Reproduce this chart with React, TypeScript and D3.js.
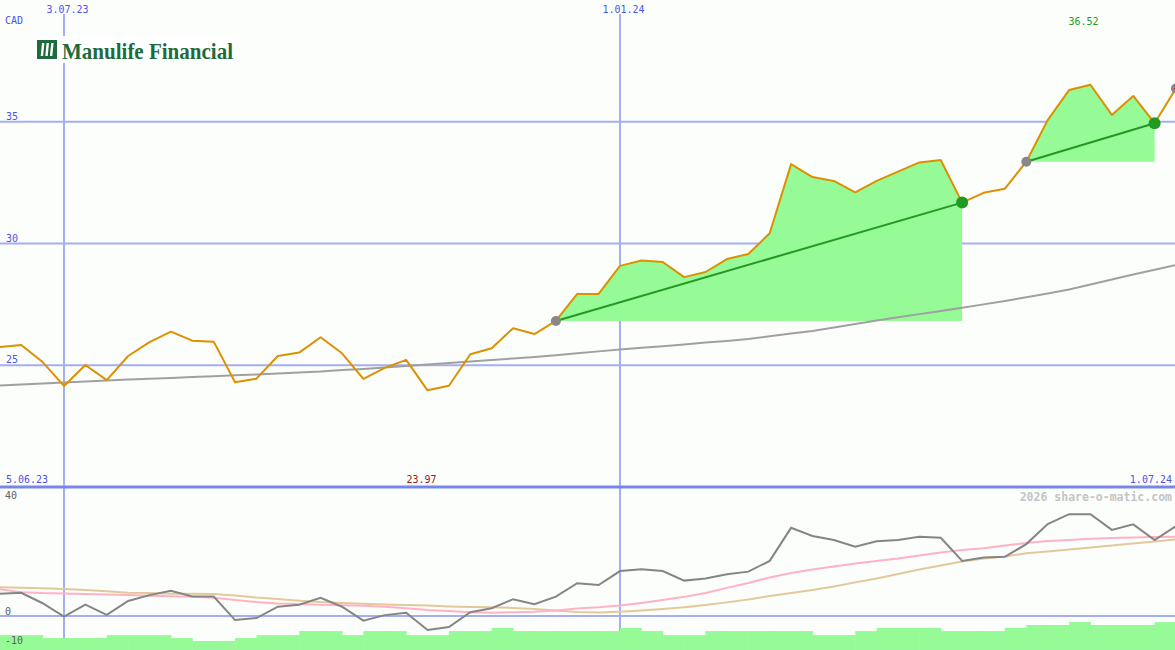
import React from "react";
import * as d3 from "d3";

const W = 1175;
const H = 650;

// Weekly observations (Mondays), 12.06.23 … 1.07.24
const weeks: Date[] = d3.timeMonday.range(new Date(2023, 5, 12), new Date(2024, 6, 2));

// Close price, CAD
const price = [
  25.75, 25.83, 25.13, 24.15, 25.01, 24.39, 25.38, 25.95, 26.38, 26.01,
  25.97, 24.30, 24.45, 25.38, 25.52, 26.15, 25.49, 24.44, 24.89, 25.22,
  23.97, 24.16, 25.45, 25.70, 26.52, 26.28, 26.82, 27.93, 27.93, 29.08,
  29.30, 29.24, 28.62, 28.83, 29.36, 29.57, 30.42, 33.26, 32.73, 32.57,
  32.10, 32.57, 32.95, 33.33, 33.43, 31.68, 32.08, 32.25, 33.36, 35.07,
  36.30, 36.52, 35.28, 36.06, 34.94, 36.37,
];

// Long moving average (grey line in the price panel)
const longAverage = [
  24.17, 24.21, 24.25, 24.29, 24.33, 24.37, 24.41, 24.45, 24.48, 24.52,
  24.55, 24.59, 24.62, 24.66, 24.70, 24.74, 24.80, 24.85, 24.91, 24.97,
  25.03, 25.09, 25.15, 25.22, 25.28, 25.34, 25.41, 25.49, 25.57, 25.65,
  25.72, 25.78, 25.85, 25.93, 26.00, 26.08, 26.19, 26.30, 26.41, 26.55,
  26.69, 26.84, 26.97, 27.10, 27.23, 27.36, 27.50, 27.64, 27.79, 27.95,
  28.11, 28.32, 28.52, 28.73, 28.92, 29.12,
];

// Lower panel indicator (grey line)
const indicator = [
  7.7, 8.0, 4.4, -0.2, 3.9, 0.4, 5.2, 7.2, 8.7, 6.7,
  6.7, -1.4, -0.7, 3.2, 3.9, 6.3, 3.2, -1.6, 0.3, 1.1,
  -4.8, -3.8, 1.3, 2.7, 5.8, 4.1, 6.7, 11.3, 10.7, 15.5,
  16.1, 15.5, 12.2, 12.9, 14.4, 15.3, 19.0, 30.4, 27.6, 26.2,
  23.9, 25.8, 26.2, 27.3, 27.0, 19.0, 20.2, 20.4, 24.8, 31.7,
  35.1, 35.1, 29.7, 31.6, 26.2, 31.0,
];

// Lower panel: fast average (pink)
const fastAverage = [
  9.2, 8.2, 7.9, 7.8, 7.6, 7.4, 7.2, 7.0, 6.8, 6.6,
  6.3, 5.5, 4.8, 4.3, 4.1, 3.9, 3.7, 3.5, 3.2, 2.7,
  2.1, 1.7, 1.3, 1.1, 1.3, 1.5, 1.9, 2.6, 3.0, 3.6,
  4.5, 5.5, 6.6, 7.9, 9.7, 11.4, 13.3, 14.8, 16.0, 17.1,
  18.1, 19.0, 19.8, 20.9, 21.9, 22.8, 23.4, 24.3, 25.2, 25.9,
  26.2, 26.6, 26.9, 27.1, 27.2, 27.3,
];

// Lower panel: slow average (tan)
const slowAverage = [
  9.9, 9.7, 9.6, 9.3, 9.0, 8.5, 8.0, 7.9, 7.7, 7.7,
  7.6, 7.1, 6.4, 5.9, 5.3, 4.8, 4.5, 4.2, 4.0, 3.8,
  3.6, 3.3, 3.1, 3.0, 2.8, 2.4, 1.9, 1.4, 1.2, 1.5,
  1.9, 2.4, 3.0, 3.8, 4.7, 5.7, 6.9, 7.9, 9.0, 10.2,
  11.6, 12.9, 14.5, 16.0, 17.4, 18.8, 19.8, 20.5, 21.6, 22.2,
  22.9, 23.6, 24.3, 25.0, 25.7, 26.4,
];

// Lower panel: green step bars (one per week interval)
const barLevels = [
  -6.6, -6.6, -7.6, -7.6, -7.6, -6.6, -6.6, -6.6, -7.6, -8.6,
  -8.6, -7.6, -6.6, -6.6, -5.2, -5.2, -6.6, -5.2, -5.2, -6.6,
  -6.6, -5.2, -5.2, -4.1, -5.2, -5.2, -5.2, -5.2, -5.2, -4.1,
  -5.2, -6.6, -6.6, -5.2, -5.2, -5.2, -5.2, -5.2, -6.6, -6.6,
  -5.2, -4.1, -4.1, -4.1, -5.2, -5.2, -5.2, -4.1, -3.1, -3.1,
  -2.1, -3.1, -3.1, -3.1, -2.1,
];

// Trades: index of entry and exit week
const trades = [
  { entry: 26, exit: 45 },
  { entry: 48, exit: 54 },
];
const openEntry = 55;

const priceTicks = [25, 30, 35];
const lowerTicks = [40, 0, -10];
const dateTicks = [
  { date: new Date(2023, 6, 3), label: "3.07.23" },
  { date: new Date(2024, 0, 1), label: "1.01.24" },
];
const minIndex = 20;
const maxIndex = 51;

const MONO = "'DejaVu Sans Mono', monospace";
const BLUE_TEXT = "#4a55ee";
const GRID = "#a4aef0";
const SEP = "#7885ea";
const FILL = "#96fa96";
const LOGO = "#1d6b3d";

export default function App() {
  const x = d3
    .scaleTime()
    .domain([new Date(2023, 6, 3), new Date(2024, 0, 1)])
    .range([64, 620]);
  const y = d3.scaleLinear().domain([20, 40]).range([487, 0]);
  const yl = d3.scaleLinear().domain([0, 40]).range([616, 500]);

  const line = d3
    .line<number>()
    .x((_, i) => x(weeks[i]))
    .y((d) => y(d));
  const lowLine = d3
    .line<number>()
    .x((_, i) => x(weeks[i]))
    .y((d) => yl(d));

  const tradeAreas = trades.map((t) => {
    const base = price[t.entry];
    const idx = d3.range(t.entry, t.exit + 1);
    const area = d3
      .area<number>()
      .x((i) => x(weeks[i]))
      .y0(() => y(base))
      .y1((i) => y(price[i]));
    return { path: area(idx) as string, t };
  });

  return (
    <div style={{ position: "absolute", left: 0, top: 0 }}>
      <svg width={W} height={H} style={{ display: "block" }}>
        <defs>
          <clipPath id="mainClip">
            <rect x={0} y={0} width={W} height={486} />
          </clipPath>
          <clipPath id="lowClip">
            <rect x={0} y={489} width={W} height={H - 489} />
          </clipPath>
        </defs>
        <rect x={0} y={0} width={W} height={H} fill="#fcfefc" />

        {/* horizontal price grid */}
        {priceTicks.map((t) => (
          <line key={t} x1={0} x2={W} y1={y(t)} y2={y(t)} stroke={GRID} strokeWidth={2} />
        ))}
        {/* lower zero line */}
        <line x1={0} x2={W} y1={yl(0)} y2={yl(0)} stroke={GRID} strokeWidth={2} />
        {/* vertical date grid */}
        {dateTicks.map((d) => (
          <line key={d.label} x1={x(d.date)} x2={x(d.date)} y1={14} y2={H} stroke={GRID} strokeWidth={2} />
        ))}

        {/* logo */}
        <rect x={34} y={36} width={203} height={27} fill="#ffffff" />
        <rect x={37} y={40} width={20} height={19} fill={LOGO} />
        {[0, 1, 2].map((i) => (
          <path
            key={i}
            d={`M${42 + i * 4.6},${43} h2.4 l-1.3,13 h-2.4 z`}
            fill="#ffffff"
          />
        ))}
        <text
          x={62}
          y={59}
          fontFamily="'Liberation Serif', 'DejaVu Serif', serif"
          fontWeight="bold"
          fontSize={24}
          fill={LOGO}
          textLength={171}
          lengthAdjust="spacingAndGlyphs"
        >
          Manulife Financial
        </text>

        {/* price panel */}
        <g clipPath="url(#mainClip)">
          {tradeAreas.map(({ path, t }) => (
            <path key={t.entry} d={path} fill={FILL} />
          ))}
          <path d={line(longAverage) as string} fill="none" stroke="#a0a0a0" strokeWidth={2} />
          {trades.map((t) => (
            <line
              key={t.entry}
              x1={x(weeks[t.entry])}
              y1={y(price[t.entry])}
              x2={x(weeks[t.exit])}
              y2={y(price[t.exit])}
              stroke="#229922"
              strokeWidth={2}
            />
          ))}
          <path d={line(price) as string} fill="none" stroke="#dd9000" strokeWidth={2} strokeLinejoin="round" />
          {trades.map((t) => (
            <g key={t.entry}>
              <circle cx={x(weeks[t.entry])} cy={y(price[t.entry])} r={5} fill="#888888" />
              <circle cx={x(weeks[t.exit])} cy={y(price[t.exit])} r={6} fill="#229922" />
            </g>
          ))}
          <circle cx={x(weeks[openEntry])} cy={y(price[openEntry])} r={5} fill="#888888" />
          <line
            x1={x(weeks[openEntry]) - 2}
            x2={x(weeks[openEntry]) + 10}
            y1={y(price[openEntry])}
            y2={y(price[openEntry])}
            stroke="#dd2020"
            strokeWidth={1.5}
          />
        </g>

        {/* separator */}
        <line x1={0} x2={W} y1={487} y2={487} stroke={SEP} strokeWidth={3} />

        {/* lower panel */}
        <g clipPath="url(#lowClip)">
          {barLevels.map((v, i) => (
            <rect
              key={i}
              x={x(weeks[i])}
              width={x(weeks[i + 1]) - x(weeks[i]) + 0.5}
              y={yl(v)}
              height={H - yl(v)}
              fill={FILL}
            />
          ))}
          <path d={lowLine(slowAverage) as string} fill="none" stroke="#e2c99a" strokeWidth={2} />
          <path d={lowLine(fastAverage) as string} fill="none" stroke="#ffb2c4" strokeWidth={2} />
          <path d={lowLine(indicator) as string} fill="none" stroke="#858585" strokeWidth={2} />
        </g>

        {/* texts */}
        <g fontFamily={MONO} fontSize={10}>
          <text x={5} y={24} fill={BLUE_TEXT}>CAD</text>
          {dateTicks.map((d) => (
            <text key={d.label} x={x(d.date) + 3.5} y={13} fill={BLUE_TEXT} textAnchor="middle">
              {d.label}
            </text>
          ))}
          {priceTicks.map((t) => (
            <text key={t} x={6} y={y(t) - 2} fill={BLUE_TEXT}>
              {t}
            </text>
          ))}
          <text x={6} y={483} fill={BLUE_TEXT}>5.06.23</text>
          <text x={1172} y={483} fill={BLUE_TEXT} textAnchor="end">1.07.24</text>
          <text x={x(weeks[minIndex]) - 6} y={483} fill="#a01818" textAnchor="middle">
            {price[minIndex].toFixed(2)}
          </text>
          <text x={x(weeks[maxIndex]) - 7} y={25} fill="#229922" textAnchor="middle">
            {price[maxIndex].toFixed(2)}
          </text>
          {lowerTicks.map((t) => (
            <text key={t} x={5} y={yl(t) - 1} fill="#606060">
              {t}
            </text>
          ))}
          <text x={1172} y={501} fill="#c4c4c4" textAnchor="end" fontWeight="bold" fontSize={11.5}>
            2026 share-o-matic.com
          </text>
        </g>
      </svg>
    </div>
  );
}
